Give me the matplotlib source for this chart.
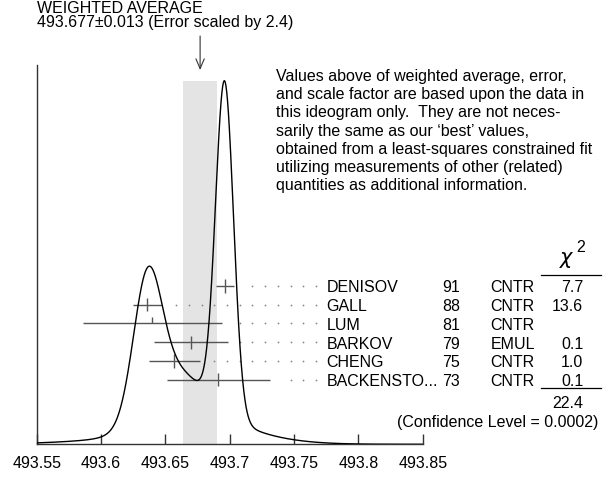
import matplotlib.pyplot as plt
import numpy as np

# Measurements shown in the ideogram
names = ['DENISOV', 'GALL', 'LUM', 'BARKOV', 'CHENG', 'BACKENSTO...']
years = ['91', '88', '81', '79', '75', '73']
methods = ['CNTR', 'CNTR', 'CNTR', 'EMUL', 'CNTR', 'CNTR']
chi2 = ['7.7', '13.6', '', '0.1', '1.0', '0.1']
values = [493.696, 493.636, 493.640, 493.670, 493.657, 493.691]
errors = [0.007, 0.011, 0.054, 0.029, 0.020, 0.040]

avg = 493.677
avg_err = 0.013
err_scale = 2.4
chi2_total = '22.4'
conf_level = '0.0002'

xticks = [493.55, 493.6, 493.65, 493.7, 493.75, 493.8, 493.85]
xticklabels = ['493.55', '493.6', '493.65', '493.7', '493.75', '493.8', '493.85']

note = ["Values above of weighted average, error,",
        "and scale factor are based upon the data in",
        "this ideogram only.  They are not neces-",
        "sarily the same as our \u2018best\u2019 values,",
        "obtained from a least-squares constrained fit",
        "utilizing measurements of other (related)",
        "quantities as additional information."]

W, H = 603, 479
plt.rcParams['font.family'] = ['Liberation Sans', 'DejaVu Sans']
fs = 11.5

fig = plt.figure(figsize=(W / 100, H / 100), dpi=100)

# pixel layout of the plotting frame
x0, x1 = 36.7, 422.7
base, top, peak = 444.3, 65.0, 80.7
ax = fig.add_axes([x0 / W, 1 - base / H, (x1 - x0) / W, (base - top) / H])
ax.set_xlim(xticks[0], xticks[-1])
ax.set_ylim(0, (base - top) / (base - peak))


def fy(ypx):
    # pixel row -> data y
    return (base - ypx) / (base - peak)


def ftext(x, y, s, **kw):
    fig.text(x / W, 1 - y / H, s, fontsize=kw.pop('fontsize', fs), **kw)


# ideogram: gaussians with area proportional to 1/sigma
xs = np.linspace(xticks[0], xticks[-1], 3000)
curve = np.zeros_like(xs)
for v, e in zip(values, errors):
    curve += 1 / e**2 * np.exp(-0.5 * ((xs - v) / e) ** 2)
curve /= curve.max()

ax.fill_between([avg - avg_err, avg + avg_err], 0, 1, color='#e4e4e4', lw=0, zorder=0)
ax.plot(xs, curve, color='black', lw=1.0, zorder=3)

# error bars and leader dots
row0, drow = 286.0, 18.74
grid = 493.767 - 0.00987 * np.arange(40)
tick_down = [1, 1, 0, 1, 1, 1]
for i, (v, e) in enumerate(zip(values, errors)):
    rp = row0 + drow * i
    y = fy(rp)
    ax.hlines(y, v - e, v + e, color='#555555', lw=1.0, zorder=2)
    ax.vlines(v, y - 0.018 * tick_down[i], y + 0.018, color='#555555', lw=1.0, zorder=2)
    sel = grid > v + e + 0.0078
    ax.plot(grid[sel], [y] * sel.sum(), ls='none', marker='o', ms=1.3,
            color='#888888', mew=0, zorder=1)
    b = rp + 6.4
    ftext(326.7, b, names[i], ha='left', va='baseline')
    ftext(460.0, b, years[i], ha='right', va='baseline')
    ftext(490.7, b, methods[i], ha='left', va='baseline')
    ftext(583.3, b, chi2[i], ha='right', va='baseline')

# chi2 column decorations
ftext(567, 263.7, r'$\chi$', ha='center', va='baseline', fontsize=15)
ftext(581, 251.7, '2', ha='center', va='baseline', fontsize=fs)
for yl in (275.3, 388.3):
    fig.add_artist(plt.Line2D([540.7 / W, 600.5 / W], [1 - yl / H] * 2,
                              color='black', lw=0.9))
ftext(583.3, 408.3, chi2_total, ha='right', va='baseline')
ftext(598.3, 426.7, '(Confidence Level = %s)' % conf_level, ha='right', va='baseline')

# header and arrow
ftext(37, 13.3, 'WEIGHTED AVERAGE', ha='left', va='baseline')
ftext(37, 27.3, '%.3f\u00b1%.3f (Error scaled by %.1f)' % (avg, avg_err, err_scale),
      ha='left', va='baseline')
ax.annotate('', xy=(avg, 1 - 70 / H), xytext=(avg, 1 - 36 / H),
            xycoords=('data', 'figure fraction'), textcoords=('data', 'figure fraction'),
            arrowprops=dict(arrowstyle='->,head_length=0.7,head_width=0.3',
                            lw=0.8, color='#333333', shrinkA=0, shrinkB=0))

for k, line in enumerate(note):
    ftext(276, 80.7 + 18.3 * k, line, ha='left', va='baseline')

# axes styling
for s in ('top', 'right'):
    ax.spines[s].set_visible(False)
for s in ('left', 'bottom'):
    ax.spines[s].set_color('#333333')
    ax.spines[s].set_linewidth(1.0)
ax.set_yticks([])
ax.set_xticks(xticks)
ax.set_xticklabels(xticklabels, fontsize=fs)
ax.tick_params(axis='x', direction='in', length=7.2, width=1.0, color='#333333', pad=8.5)
ax.patch.set_alpha(0)

fig.savefig('out.png', dpi=100)
